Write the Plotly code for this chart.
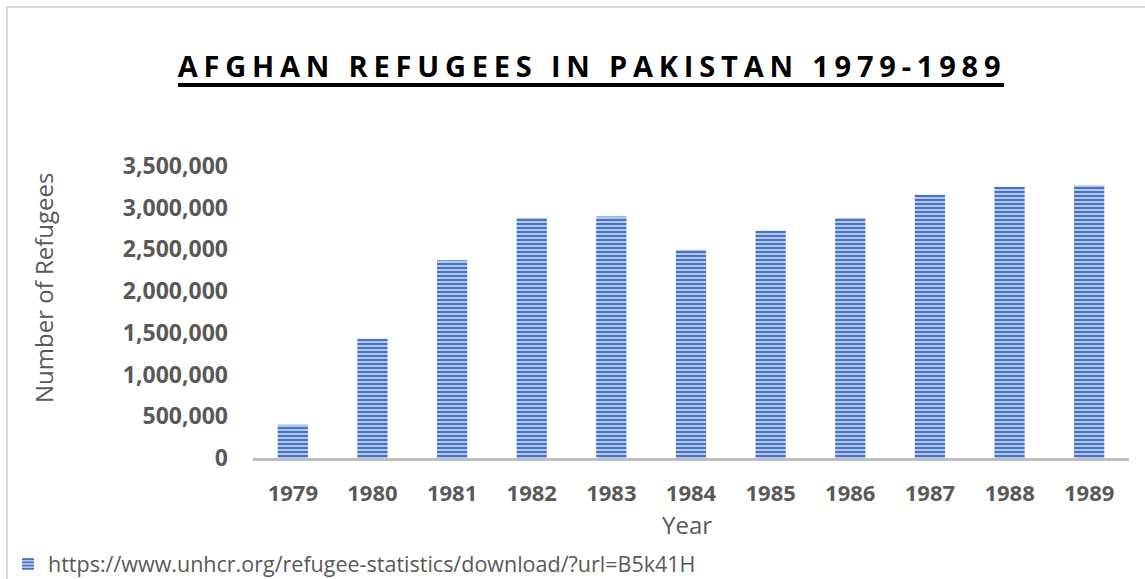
import plotly.graph_objects as go

years = ["1979", "1980", "1981", "1982", "1983", "1984", "1985", "1986", "1987", "1988", "1989"]
refugees = [400000, 1428000, 2370000, 2877000, 2895000, 2495000, 2725000, 2878000, 3155000, 3252000, 3268000]
series_name = "https://www.unhcr.org/refugee-statistics/download/?url=B5k41H"
title_text = "AFGHAN REFUGEES IN PAKISTAN 1979-1989"
y_title = "Number of Refugees"
x_title = "Year"

W, H = 1145, 579
L, R, T, B = 253, 16, 166, 121
PW, PH = W - L - R, H - T - B

def px(x):
    return (x - L) / PW

def py(y):
    return (H - B - y) / PH

fig = go.Figure()
fig.add_trace(go.Bar(
    x=years, y=refugees, name=series_name,
    marker=dict(
        color="#9fb8e6",
        line=dict(width=0),
        pattern=dict(shape="-", fgcolor="#4472C4", bgcolor="#b4c7ea",
                     size=4, solidity=0.5, fillmode="replace"),
    ),
    showlegend=True,
))

grey = "#595959"
fig.update_layout(
    width=W, height=H,
    margin=dict(l=L, r=R, t=T, b=B, autoexpand=False),
    paper_bgcolor="white", plot_bgcolor="white",
    bargap=0.62,
    font=dict(family="Open Sans", color=grey),
    title=dict(
        text='<span style="letter-spacing:5.8px">' + title_text + '</span>',
        font=dict(family="Open Sans", size=29, color="black", weight="bold"),
        x=592 / W, xref="container", xanchor="center",
        y=1 - 67 / H, yref="container", yanchor="middle",
    ),
    xaxis=dict(
        showgrid=False, showline=True, linecolor="#bfbfbf", linewidth=3,
        ticks="", ticklabelstandoff=14, automargin=False,
        tickfont=dict(family="Open Sans", size=22, color=grey, weight="bold"),
    ),
    yaxis=dict(
        range=[0, 3500000], dtick=500000, tickformat=",",
        showgrid=False, zeroline=False, showline=False, ticks="",
        ticklabelstandoff=24, automargin=False,
        tickfont=dict(family="Open Sans", size=23, color=grey, weight="bold"),
    ),
    legend=dict(
        orientation="h", xref="container", yref="container",
        x=8 / W, xanchor="left", y=1 - 564 / H, yanchor="middle",
        font=dict(family="Open Sans", size=21.5, color=grey),
        bgcolor="rgba(0,0,0,0)",
    ),
    annotations=[
        dict(text=y_title, textangle=-90, xref="paper", yref="paper",
             x=px(43), y=py(288), xanchor="center", yanchor="middle",
             showarrow=False, font=dict(family="Open Sans", size=24, color=grey)),
        dict(text=x_title, xref="paper", yref="paper",
             x=px(687), y=py(524), xanchor="center", yanchor="middle",
             showarrow=False, font=dict(family="Open Sans", size=24, color=grey)),
    ],
    shapes=[
        dict(type="line", xref="paper", yref="paper",
             x0=px(178), x1=px(1004), y0=py(85), y1=py(85),
             line=dict(color="black", width=4)),
        dict(type="rect", xref="paper", yref="paper",
             x0=px(7), x1=px(1160), y0=py(7), y1=py(600),
             line=dict(color="#d9d9d9", width=2)),
    ],
)

fig.write_html("out.html",
               config={"displayModeBar": False},
               post_script="document.body.style.margin='0';document.body.style.overflow='hidden';")
